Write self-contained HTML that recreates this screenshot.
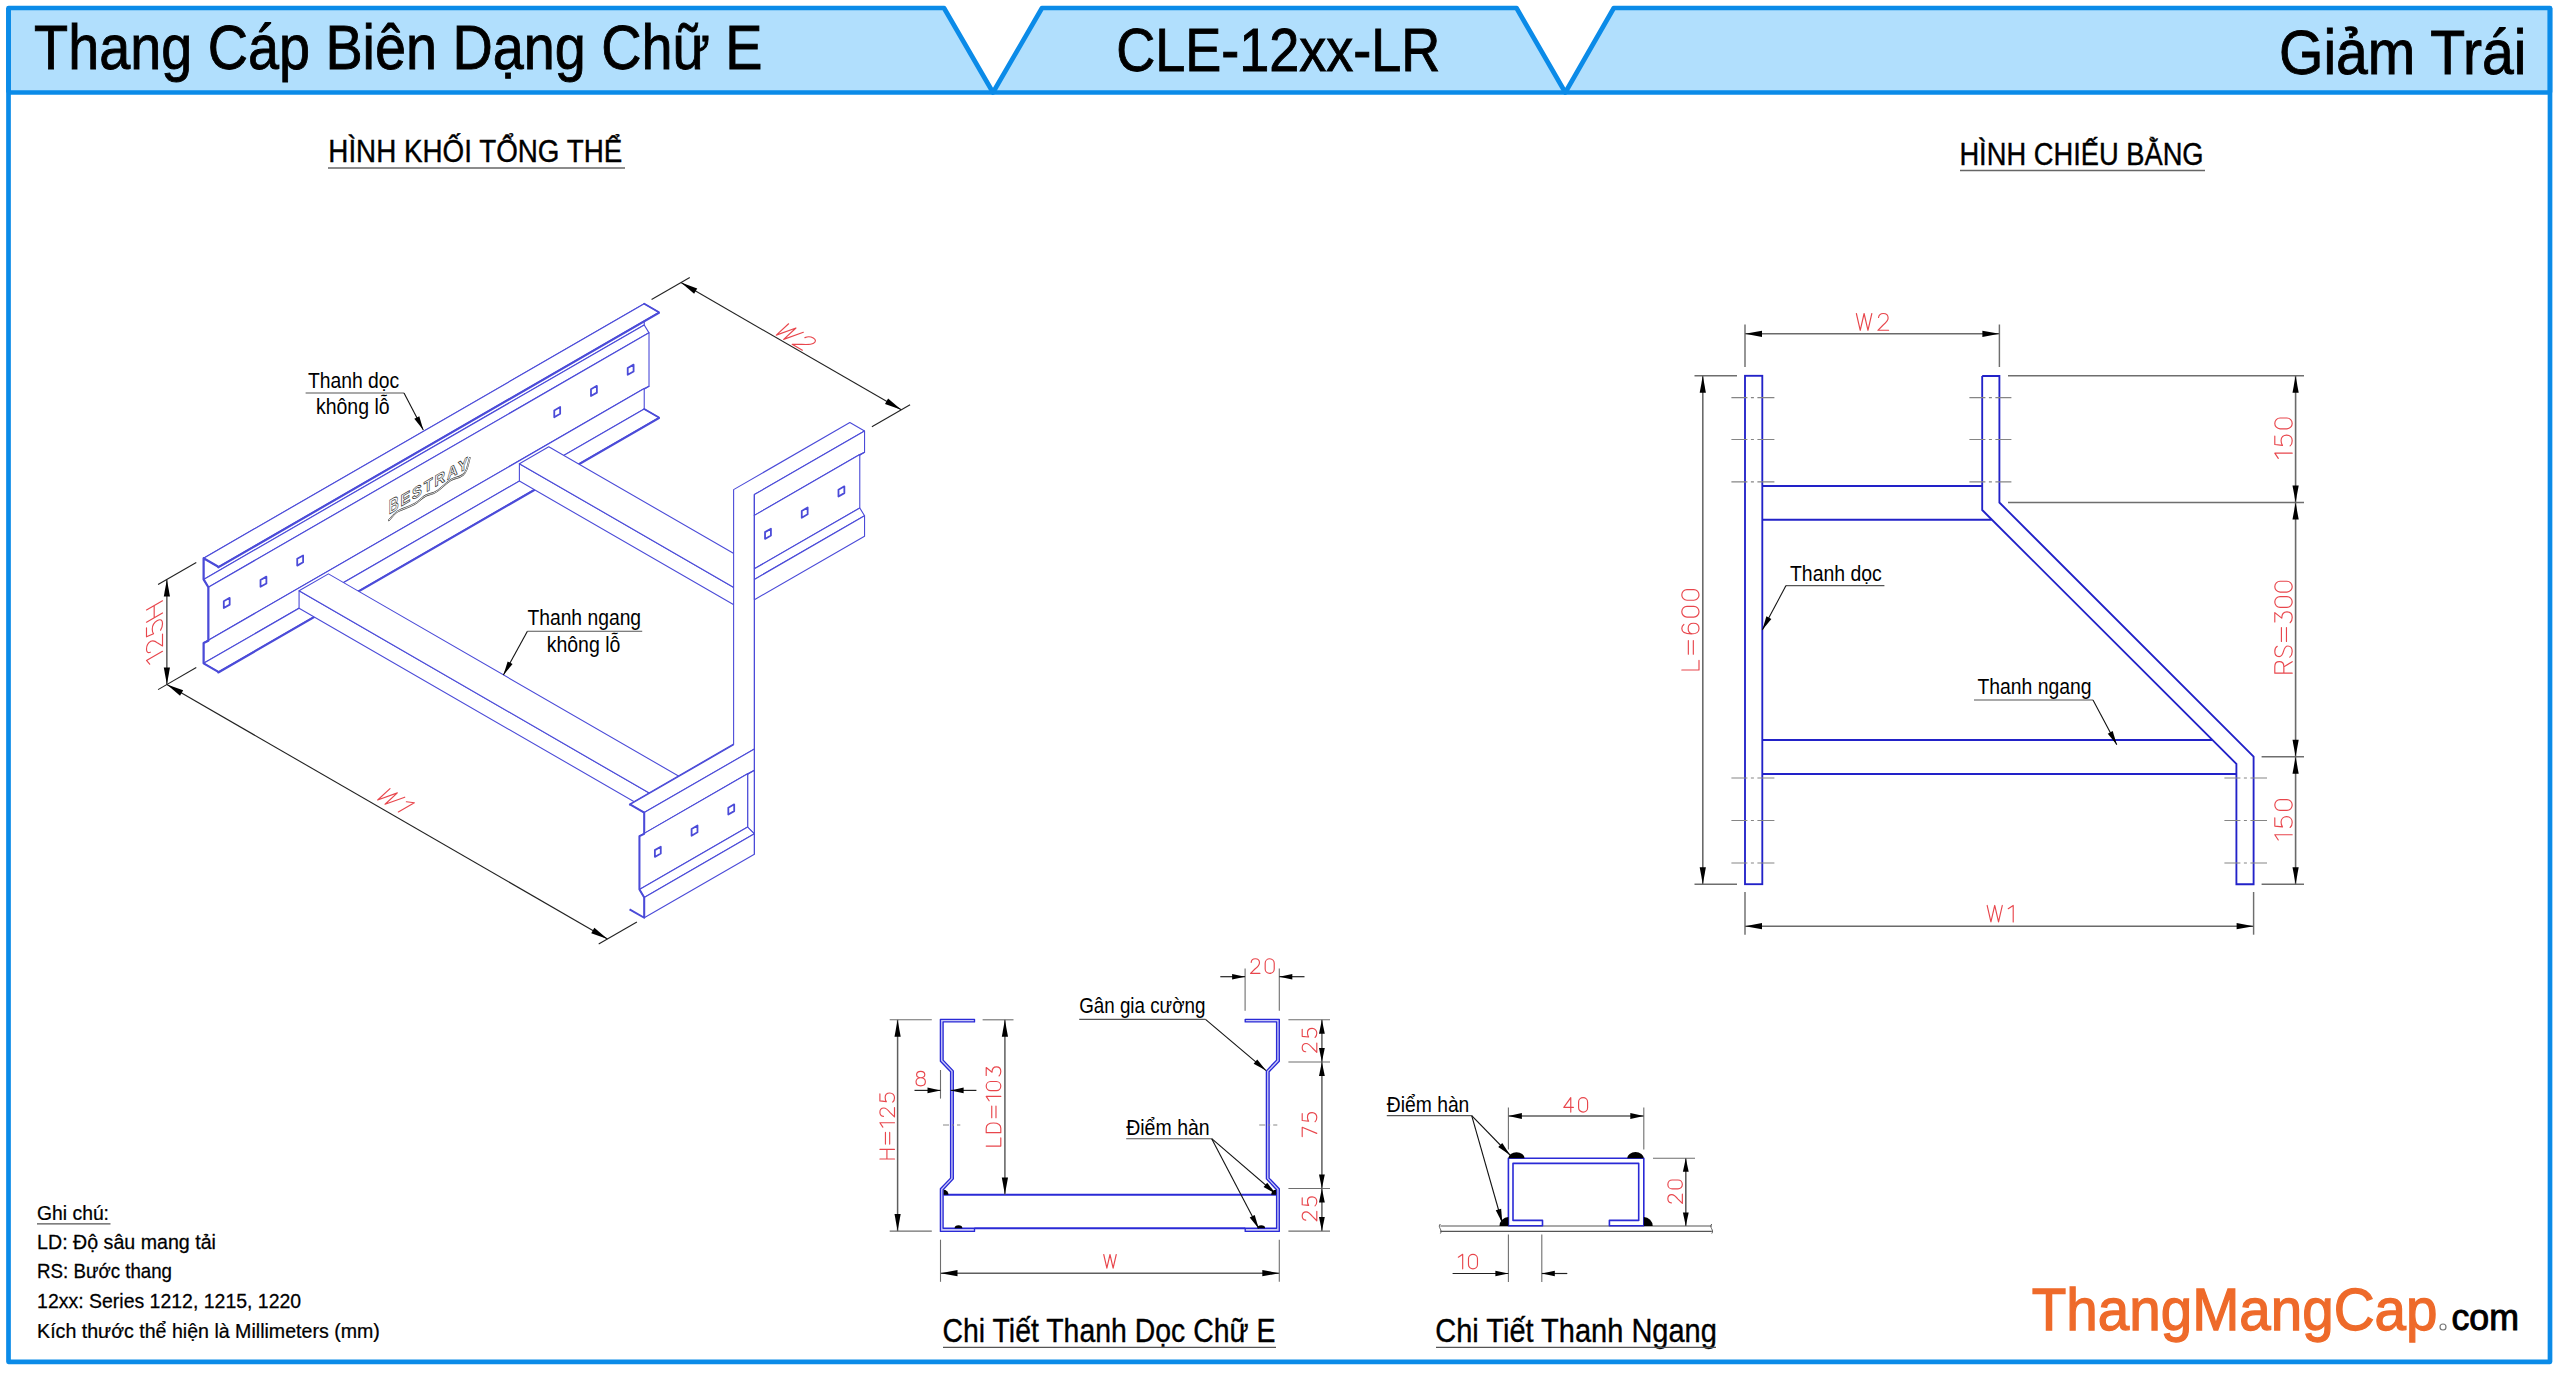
<!DOCTYPE html>
<html><head><meta charset="utf-8"><title>CLE-12xx-LR</title>
<style>html,body{margin:0;padding:0;background:#fff;overflow:hidden}svg{display:block}
text{font-family:"Liberation Sans",sans-serif}</style></head>
<body><svg width="2560" height="1373" viewBox="0 0 2560 1373">
<rect x="0" y="0" width="2560" height="1373" fill="#fff"/>
<polygon points="8.5,8 944,8 993,92.5 8.5,92.5" fill="#b1dffd" stroke="none" stroke-width="1" stroke-linejoin="round" />
<polygon points="1042,8 1516.5,8 1565.3,92.5 993,92.5" fill="#b1dffd" stroke="none" stroke-width="1" stroke-linejoin="round" />
<polygon points="1613.8,8 2550,8 2550,92.5 1565.3,92.5" fill="#b1dffd" stroke="none" stroke-width="1" stroke-linejoin="round" />
<polyline points="8.5,92.5 8.5,8 944,8 993,92.5 1042,8 1516.5,8 1565.3,92.5 1613.8,8 2550,8 2550,92.5" fill="none" stroke="#0b8be8" stroke-width="4.7" stroke-linejoin="round" stroke-linejoin="miter"/>
<polyline points="8.5,8 8.5,1361.8 2550,1361.8 2550,8" fill="none" stroke="#0b8be8" stroke-width="4.7" stroke-linejoin="round" stroke-linejoin="miter"/>
<line x1="8.5" y1="92.5" x2="2550" y2="92.5" stroke="#0b8be8" stroke-width="4.7" />
<text transform="translate(34.1,68.6) scale(0.8783,1)" font-size="63.48" fill="#000"  stroke="#000" stroke-width="0.9">Thang Cáp Biên Dạng Chữ E</text>
<text transform="translate(1116.2,71.25) scale(0.8832,1)" font-size="61.16" fill="#000"  stroke="#000" stroke-width="0.9">CLE-12xx-LR</text>
<text transform="translate(2279,73.6) scale(0.9204,1)" font-size="62.03" fill="#000"  stroke="#000" stroke-width="0.9">Giảm Trái</text>
<text transform="translate(328.3,161.8) scale(0.8723,1)" font-size="31.88" fill="#000"  stroke="#000" stroke-width="0.4">HÌNH KHỐI TỔNG THỂ</text>
<line x1="328" y1="168" x2="625" y2="168" stroke="#666" stroke-width="1.6" />
<text transform="translate(1959.4,164.6) scale(0.8566,1)" font-size="31.88" fill="#000"  stroke="#000" stroke-width="0.4">HÌNH CHIẾU BẰNG</text>
<line x1="1960" y1="170.5" x2="2205" y2="170.5" stroke="#666" stroke-width="1.6" />
<g id="iso">
<polygon points="203.6,558.2 644.23,303.8 644.23,325 203.6,579.4" fill="#fff" stroke="#4b4bd8" stroke-width="1.1" stroke-linejoin="round" />
<polygon points="203.6,579.4 644.23,325 649.01,332.84 208.37,587.24" fill="#fff" stroke="#4b4bd8" stroke-width="1.1" stroke-linejoin="round" />
<polygon points="208.37,587.24 649.01,332.84 649.01,386.27 208.37,640.67" fill="#fff" stroke="#4b4bd8" stroke-width="1.1" stroke-linejoin="round" />
<polygon points="208.37,640.67 649.01,386.27 644.23,388.6 203.6,643" fill="#fff" stroke="#4b4bd8" stroke-width="1.1" stroke-linejoin="round" />
<polygon points="203.6,643 644.23,388.6 644.23,408.95 203.6,663.35" fill="#fff" stroke="#4b4bd8" stroke-width="1.1" stroke-linejoin="round" />
<polygon points="203.6,663.35 644.23,408.95 658.92,417.43 218.29,671.83" fill="#fff" stroke="#4b4bd8" stroke-width="1.1" stroke-linejoin="round" />
<polygon points="203.6,558.2 644.23,303.8 658.92,312.28 218.29,566.68" fill="#fff" stroke="#4b4bd8" stroke-width="1.1" stroke-linejoin="round" />
<line x1="218.29" y1="567.36" x2="658.92" y2="312.96" stroke="#4b4bd8" stroke-width="2.0" stroke-linecap="round"/>
<line x1="218.29" y1="672.51" x2="658.92" y2="418.11" stroke="#4b4bd8" stroke-width="2.0" stroke-linecap="round"/>
<polyline points="218.29,566.68 203.6,558.2 203.6,579.4 208.37,587.24 208.37,640.67 203.6,643 203.6,663.35 218.29,671.83" fill="none" stroke="#4b4bd8" stroke-width="2.2" stroke-linejoin="round" />
<line x1="644.23" y1="303.8" x2="658.92" y2="312.28" stroke="#4b4bd8" stroke-width="1.8" stroke-linecap="round"/>
<line x1="644.23" y1="408.95" x2="658.92" y2="417.43" stroke="#4b4bd8" stroke-width="1.8" stroke-linecap="round"/>
<polygon points="223.8,601.24 229.67,597.84 229.67,604.63 223.8,608.02" fill="#fff" stroke="#4b4bd8" stroke-width="1.8" stroke-linejoin="round" />
<polygon points="260.52,580.04 266.39,576.64 266.39,583.43 260.52,586.82" fill="#fff" stroke="#4b4bd8" stroke-width="1.8" stroke-linejoin="round" />
<polygon points="297.23,558.84 303.11,555.44 303.11,562.23 297.23,565.62" fill="#fff" stroke="#4b4bd8" stroke-width="1.8" stroke-linejoin="round" />
<polygon points="554.27,410.44 560.15,407.04 560.15,413.83 554.27,417.22" fill="#fff" stroke="#4b4bd8" stroke-width="1.8" stroke-linejoin="round" />
<polygon points="590.99,389.24 596.87,385.84 596.87,392.63 590.99,396.02" fill="#fff" stroke="#4b4bd8" stroke-width="1.8" stroke-linejoin="round" />
<polygon points="627.71,368.04 633.59,364.64 633.59,371.43 627.71,374.82" fill="#fff" stroke="#4b4bd8" stroke-width="1.8" stroke-linejoin="round" />
<g transform="matrix(0.866,-0.5,0,1,388.7,514.4)">
<path d="M0.5,5.8 C4,4.5 7,1.5 12,2.2 C18,3 24,4.2 30,4.4 C36,4.6 38,2.2 43,2.6 C48,3 50,5.2 56,4.6 C62,4 66,1.5 72,1.5 C78,1.5 80,4.2 86,3.2 C90,2.5 91,-2 93.4,-9.5" fill="none" stroke="#3a3a3a" stroke-width="2.3" stroke-linecap="round"/>
<path d="M0.5,5.8 C4,4.5 7,1.5 12,2.2 C18,3 24,4.2 30,4.4 C36,4.6 38,2.2 43,2.6 C48,3 50,5.2 56,4.6 C62,4 66,1.5 72,1.5 C78,1.5 80,4.2 86,3.2 C90,2.5 91,-2 93.4,-9.5" fill="none" stroke="#fff" stroke-width="0.8" stroke-linecap="round"/>
<text x="0" y="0" font-size="20" font-weight="bold" fill="#fff" stroke="#333" stroke-width="0.75" textLength="11.5" lengthAdjust="spacingAndGlyphs">B</text>
<text x="13.5" y="-0.8" font-size="16" font-weight="bold" fill="#fff" stroke="#333" stroke-width="0.7" textLength="80" lengthAdjust="spacingAndGlyphs" letter-spacing="2">ESTRAY</text>
</g>
<polygon points="299.07,590.85 736.77,843.55 736.77,860.94 299.07,608.23" fill="#fff" stroke="#4b4bd8" stroke-width="1.1" stroke-linejoin="round" />
<polygon points="299.07,590.85 328.45,573.89 750.72,817.69 736.77,843.55" fill="#fff" stroke="#4b4bd8" stroke-width="1.1" stroke-linejoin="round" />
<polygon points="519.39,463.65 750.72,597.21 750.72,614.59 519.39,481.03" fill="#fff" stroke="#4b4bd8" stroke-width="1.1" stroke-linejoin="round" />
<polygon points="519.39,463.65 548.76,446.69 750.72,563.29 750.72,597.21" fill="#fff" stroke="#4b4bd8" stroke-width="1.1" stroke-linejoin="round" />
<polygon points="754.39,515.8 747.64,519.27 747.64,773.67 754.39,770.2" fill="#fff" stroke="#4b4bd8" stroke-width="1.1" stroke-linejoin="round" />
<polygon points="747.64,572.7 754.39,579.4 754.39,833.8 747.64,827.1" fill="#fff" stroke="#4b4bd8" stroke-width="1.1" stroke-linejoin="round" />
<polygon points="629.55,804.12 733.61,744.04 733.61,489.64 849.86,422.52 864.55,431 754.39,494.6 754.39,749 644.23,812.6" fill="#fff" stroke="#4b4bd8" stroke-width="1.1" stroke-linejoin="round" />
<polygon points="754.39,494.6 864.55,431 864.55,452.2 754.39,515.8" fill="#fff" stroke="#4b4bd8" stroke-width="1.1" stroke-linejoin="round" />
<polygon points="754.39,515.8 864.55,452.2 859.78,454.53 754.39,515.38" fill="#fff" stroke="#4b4bd8" stroke-width="1.1" stroke-linejoin="round" />
<polygon points="754.39,515.38 859.78,454.53 859.78,507.96 754.39,568.8" fill="#fff" stroke="#4b4bd8" stroke-width="1.1" stroke-linejoin="round" />
<polygon points="754.39,568.8 859.78,507.96 864.55,515.8 754.39,579.4" fill="#fff" stroke="#4b4bd8" stroke-width="1.1" stroke-linejoin="round" />
<polygon points="754.39,579.4 864.55,515.8 864.55,536.15 754.39,599.75" fill="#fff" stroke="#4b4bd8" stroke-width="1.1" stroke-linejoin="round" />
<polygon points="644.23,812.6 754.39,749 754.39,770.2 644.23,833.8" fill="#fff" stroke="#4b4bd8" stroke-width="1.1" stroke-linejoin="round" />
<polygon points="644.23,833.8 754.39,770.2 747.64,773.67 639.46,836.13" fill="#fff" stroke="#4b4bd8" stroke-width="1.1" stroke-linejoin="round" />
<polygon points="639.46,836.13 747.64,773.67 747.64,827.1 639.46,889.56" fill="#fff" stroke="#4b4bd8" stroke-width="1.1" stroke-linejoin="round" />
<polygon points="639.46,889.56 747.64,827.1 754.39,833.8 644.23,897.4" fill="#fff" stroke="#4b4bd8" stroke-width="1.1" stroke-linejoin="round" />
<polygon points="644.23,897.4 754.39,833.8 754.39,854.15 644.23,917.75" fill="#fff" stroke="#4b4bd8" stroke-width="1.1" stroke-linejoin="round" />
<line x1="754.39" y1="494.6" x2="754.39" y2="854.15" stroke="#4b4bd8" stroke-width="1.1" />
<polyline points="629.55,804.12 644.23,812.6 644.23,833.8 639.46,836.13 639.46,889.56 644.23,897.4 644.23,917.75 629.55,909.27" fill="none" stroke="#4b4bd8" stroke-width="2.0" stroke-linejoin="round" />
<line x1="629.55" y1="804.8" x2="733.61" y2="744.72" stroke="#4b4bd8" stroke-width="1.3" stroke-linecap="round"/>
<polygon points="765.04,532.12 770.92,528.73 770.92,535.52 765.04,538.91" fill="#fff" stroke="#4b4bd8" stroke-width="1.8" stroke-linejoin="round" />
<polygon points="801.76,510.92 807.64,507.53 807.64,514.32 801.76,517.71" fill="#fff" stroke="#4b4bd8" stroke-width="1.8" stroke-linejoin="round" />
<polygon points="838.48,489.72 844.35,486.33 844.35,493.12 838.48,496.51" fill="#fff" stroke="#4b4bd8" stroke-width="1.8" stroke-linejoin="round" />
<polygon points="654.88,850.12 660.76,846.73 660.76,853.52 654.88,856.91" fill="#fff" stroke="#4b4bd8" stroke-width="1.8" stroke-linejoin="round" />
<polygon points="691.6,828.92 697.48,825.53 697.48,832.32 691.6,835.71" fill="#fff" stroke="#4b4bd8" stroke-width="1.8" stroke-linejoin="round" />
<polygon points="728.32,807.72 734.2,804.33 734.2,811.12 728.32,814.51" fill="#fff" stroke="#4b4bd8" stroke-width="1.8" stroke-linejoin="round" />
</g>
<line x1="651.58" y1="299.56" x2="689.77" y2="277.51" stroke="#222" stroke-width="1.1" />
<line x1="871.89" y1="426.76" x2="910.08" y2="404.71" stroke="#222" stroke-width="1.1" />
<line x1="680.95" y1="282.6" x2="901.27" y2="409.8" stroke="#222" stroke-width="1.1" />
<polygon points="680.95,282.6 697.23,288.42 694.13,293.78" fill="#000" stroke="none" stroke-width="1" stroke-linejoin="round" />
<polygon points="901.27,409.8 885,403.98 888.1,398.62" fill="#000" stroke="none" stroke-width="1" stroke-linejoin="round" />
<line x1="158.07" y1="689.64" x2="196.26" y2="667.59" stroke="#222" stroke-width="1.1" />
<line x1="598.7" y1="944.04" x2="636.89" y2="921.99" stroke="#222" stroke-width="1.1" />
<line x1="166.88" y1="684.55" x2="607.51" y2="938.95" stroke="#222" stroke-width="1.1" />
<polygon points="166.88,684.55 183.15,690.37 180.05,695.74" fill="#000" stroke="none" stroke-width="1" stroke-linejoin="round" />
<polygon points="607.51,938.95 591.24,933.14 594.34,927.77" fill="#000" stroke="none" stroke-width="1" stroke-linejoin="round" />
<line x1="158.07" y1="584.49" x2="196.26" y2="562.44" stroke="#222" stroke-width="1.1" />
<line x1="166.88" y1="579.4" x2="166.88" y2="684.55" stroke="#222" stroke-width="1.1" />
<polygon points="166.88,579.4 169.98,596.4 163.78,596.4" fill="#000" stroke="none" stroke-width="1" stroke-linejoin="round" />
<polygon points="166.88,684.55 163.78,667.55 169.98,667.55" fill="#000" stroke="none" stroke-width="1" stroke-linejoin="round" />
<g transform="matrix(16.02,9.25,-16.02,9.25,795.5,337)" fill="none" stroke="#e8464c" stroke-width="1.15" stroke-linecap="round" stroke-linejoin="round" vector-effect="non-scaling-stroke"><path vector-effect="non-scaling-stroke" transform="translate(-0.93,0.5)" d="M0,-1 L0.23,0 L0.46,-1 L0.69,0 L0.92,-1"/><path vector-effect="non-scaling-stroke" transform="translate(0.29,0.5)" d="M0.04,-0.76 C0.06,-0.92 0.18,-1 0.32,-1 C0.49,-1 0.61,-0.89 0.61,-0.73 C0.61,-0.57 0.5,-0.46 0.3,-0.3 L0,0 L0.64,0"/></g>
<g transform="matrix(16.02,9.25,-16.02,9.25,394.5,800.5)" fill="none" stroke="#e8464c" stroke-width="1.15" stroke-linecap="round" stroke-linejoin="round" vector-effect="non-scaling-stroke"><path vector-effect="non-scaling-stroke" transform="translate(-0.78,0.5)" d="M0,-1 L0.23,0 L0.46,-1 L0.69,0 L0.92,-1"/><path vector-effect="non-scaling-stroke" transform="translate(0.44,0.5)" d="M0,-0.8 L0.3,-1 L0.3,0"/></g>
<g transform="matrix(0,-18.5,16.02,-9.25,154.5,633.3)" fill="none" stroke="#e8464c" stroke-width="1.15" stroke-linecap="round" stroke-linejoin="round" vector-effect="non-scaling-stroke"><path vector-effect="non-scaling-stroke" transform="translate(-1.52,0.5)" d="M0,-0.8 L0.3,-1 L0.3,0"/><path vector-effect="non-scaling-stroke" transform="translate(-0.93,0.5)" d="M0.04,-0.76 C0.06,-0.92 0.18,-1 0.32,-1 C0.49,-1 0.61,-0.89 0.61,-0.73 C0.61,-0.57 0.5,-0.46 0.3,-0.3 L0,0 L0.64,0"/><path vector-effect="non-scaling-stroke" transform="translate(-0.04,0.5)" d="M0.58,-1 L0.1,-1 L0.05,-0.56 C0.14,-0.62 0.24,-0.64 0.33,-0.64 C0.52,-0.64 0.64,-0.5 0.64,-0.32 C0.64,-0.12 0.5,0 0.32,0 C0.19,0 0.08,-0.04 0.02,-0.12"/><path vector-effect="non-scaling-stroke" transform="translate(0.85,0.5)" d="M0,-1 L0,0 M0.66,-1 L0.66,0 M0,-0.52 L0.66,-0.52"/></g>
<text transform="translate(307.9,387.6) scale(0.9009,1)" font-size="21.45" fill="#000" >Thanh dọc</text>
<text transform="translate(315.9,413.8) scale(0.9090,1)" font-size="21.45" fill="#000" >không lỗ</text>
<line x1="305.6" y1="393" x2="404" y2="393" stroke="#555" stroke-width="1.15" />
<polyline points="404,393 423.3,429.9" fill="none" stroke="#111" stroke-width="1.1" stroke-linejoin="round" />
<polygon points="423.3,429.9 414.33,418.79 419.29,416.2" fill="#000" stroke="none" stroke-width="1" stroke-linejoin="round" />
<text transform="translate(527.4,625.4) scale(0.9000,1)" font-size="21.45" fill="#000" >Thanh ngang</text>
<text transform="translate(546.7,651.7) scale(0.9090,1)" font-size="21.45" fill="#000" >không lỗ</text>
<line x1="527.4" y1="631.2" x2="642.2" y2="631.2" stroke="#555" stroke-width="1.15" />
<polyline points="527.4,631.2 503.4,675" fill="none" stroke="#111" stroke-width="1.1" stroke-linejoin="round" />
<polygon points="503.4,675 507.67,661.38 512.58,664.07" fill="#000" stroke="none" stroke-width="1" stroke-linejoin="round" />
<g fill="none" stroke="#2222c8" stroke-width="1.85" stroke-linejoin="miter">
<rect x="1745" y="375.8" width="17.3" height="508.4"/>
<polyline points="1982.2,376 1999.4,376 1999.4,502.5 2253.6,756.7 2253.6,884.2 2236.4,884.2 2236.4,763.9 1982.2,510 1982.2,376"/>
<polyline points="1762.3,486 1982.2,486"/>
<polyline points="1762.3,519.7 1991.7,519.7"/>
<polyline points="1762.3,740 2212,740"/>
<polyline points="1762.3,774 2236.4,774"/>
</g>
<line x1="1731.4" y1="397.6" x2="1774.4" y2="397.6" stroke="#858585" stroke-width="1.15" stroke-dasharray="16,3.5,3,3.5,17,50"/>
<line x1="1969.4" y1="397.6" x2="2011.4" y2="397.6" stroke="#858585" stroke-width="1.15" stroke-dasharray="16,3.5,3,3.5,17,50"/>
<line x1="1731.4" y1="439.5" x2="1774.4" y2="439.5" stroke="#858585" stroke-width="1.15" stroke-dasharray="16,3.5,3,3.5,17,50"/>
<line x1="1969.4" y1="439.5" x2="2011.4" y2="439.5" stroke="#858585" stroke-width="1.15" stroke-dasharray="16,3.5,3,3.5,17,50"/>
<line x1="1731.4" y1="481.8" x2="1774.4" y2="481.8" stroke="#858585" stroke-width="1.15" stroke-dasharray="16,3.5,3,3.5,17,50"/>
<line x1="1969.4" y1="481.8" x2="2011.4" y2="481.8" stroke="#858585" stroke-width="1.15" stroke-dasharray="16,3.5,3,3.5,17,50"/>
<line x1="1731.4" y1="778" x2="1774.4" y2="778" stroke="#858585" stroke-width="1.15" stroke-dasharray="16,3.5,3,3.5,17,50"/>
<line x1="2224.4" y1="778" x2="2267" y2="778" stroke="#858585" stroke-width="1.15" stroke-dasharray="16,3.5,3,3.5,17,50"/>
<line x1="1731.4" y1="820.5" x2="1774.4" y2="820.5" stroke="#858585" stroke-width="1.15" stroke-dasharray="16,3.5,3,3.5,17,50"/>
<line x1="2224.4" y1="820.5" x2="2267" y2="820.5" stroke="#858585" stroke-width="1.15" stroke-dasharray="16,3.5,3,3.5,17,50"/>
<line x1="1731.4" y1="863" x2="1774.4" y2="863" stroke="#858585" stroke-width="1.15" stroke-dasharray="16,3.5,3,3.5,17,50"/>
<line x1="2224.4" y1="863" x2="2267" y2="863" stroke="#858585" stroke-width="1.15" stroke-dasharray="16,3.5,3,3.5,17,50"/>
<line x1="1745" y1="324.5" x2="1745" y2="367" stroke="#6e6e6e" stroke-width="1.45" />
<line x1="1999.4" y1="324.5" x2="1999.4" y2="367" stroke="#6e6e6e" stroke-width="1.45" />
<line x1="1745" y1="333.8" x2="1999.4" y2="333.8" stroke="#6a6a6a" stroke-width="1.6" />
<polygon points="1745,333.8 1762,330.7 1762,336.9" fill="#000" stroke="none" stroke-width="1" stroke-linejoin="round" />
<polygon points="1999.4,333.8 1982.4,336.9 1982.4,330.7" fill="#000" stroke="none" stroke-width="1" stroke-linejoin="round" />
<line x1="1694.5" y1="375.8" x2="1737" y2="375.8" stroke="#6e6e6e" stroke-width="1.45" />
<line x1="1694.5" y1="884.2" x2="1737" y2="884.2" stroke="#6e6e6e" stroke-width="1.45" />
<line x1="1702.8" y1="375.8" x2="1702.8" y2="884.2" stroke="#6a6a6a" stroke-width="1.6" />
<polygon points="1702.8,375.8 1705.9,392.8 1699.7,392.8" fill="#000" stroke="none" stroke-width="1" stroke-linejoin="round" />
<polygon points="1702.8,884.2 1699.7,867.2 1705.9,867.2" fill="#000" stroke="none" stroke-width="1" stroke-linejoin="round" />
<line x1="2008" y1="375.8" x2="2304" y2="375.8" stroke="#6e6e6e" stroke-width="1.45" />
<line x1="2008" y1="502.5" x2="2304" y2="502.5" stroke="#6e6e6e" stroke-width="1.45" />
<line x1="2261.6" y1="756.7" x2="2304" y2="756.7" stroke="#6e6e6e" stroke-width="1.45" />
<line x1="2261.6" y1="884.2" x2="2304" y2="884.2" stroke="#6e6e6e" stroke-width="1.45" />
<line x1="2295.6" y1="375.8" x2="2295.6" y2="884.2" stroke="#6a6a6a" stroke-width="1.6" />
<polygon points="2295.6,375.8 2298.7,392.8 2292.5,392.8" fill="#000" stroke="none" stroke-width="1" stroke-linejoin="round" />
<polygon points="2295.6,502.5 2292.5,485.5 2298.7,485.5" fill="#000" stroke="none" stroke-width="1" stroke-linejoin="round" />
<polygon points="2295.6,502.5 2298.7,519.5 2292.5,519.5" fill="#000" stroke="none" stroke-width="1" stroke-linejoin="round" />
<polygon points="2295.6,756.7 2292.5,739.7 2298.7,739.7" fill="#000" stroke="none" stroke-width="1" stroke-linejoin="round" />
<polygon points="2295.6,756.7 2298.7,773.7 2292.5,773.7" fill="#000" stroke="none" stroke-width="1" stroke-linejoin="round" />
<polygon points="2295.6,884.2 2292.5,867.2 2298.7,867.2" fill="#000" stroke="none" stroke-width="1" stroke-linejoin="round" />
<line x1="1745" y1="892" x2="1745" y2="934.7" stroke="#6e6e6e" stroke-width="1.45" />
<line x1="2253.6" y1="892" x2="2253.6" y2="934.7" stroke="#6e6e6e" stroke-width="1.45" />
<line x1="1745" y1="926.2" x2="2253.6" y2="926.2" stroke="#6a6a6a" stroke-width="1.6" />
<polygon points="1745,926.2 1762,923.1 1762,929.3" fill="#000" stroke="none" stroke-width="1" stroke-linejoin="round" />
<polygon points="2253.6,926.2 2236.6,929.3 2236.6,923.1" fill="#000" stroke="none" stroke-width="1" stroke-linejoin="round" />
<g transform="translate(1872.5,321.9) rotate(0) scale(16.8)" fill="none" stroke="#e8464c" stroke-width="1.15" stroke-linecap="round" stroke-linejoin="round" vector-effect="non-scaling-stroke"><path vector-effect="non-scaling-stroke" transform="translate(-0.96,0.5)" d="M0,-1 L0.23,0 L0.46,-1 L0.69,0 L0.92,-1"/><path vector-effect="non-scaling-stroke" transform="translate(0.32,0.5)" d="M0.04,-0.76 C0.06,-0.92 0.18,-1 0.32,-1 C0.49,-1 0.61,-0.89 0.61,-0.73 C0.61,-0.57 0.5,-0.46 0.3,-0.3 L0,0 L0.64,0"/></g>
<g transform="translate(2000.5,913.7) rotate(0) scale(16.5)" fill="none" stroke="#e8464c" stroke-width="1.15" stroke-linecap="round" stroke-linejoin="round" vector-effect="non-scaling-stroke"><path vector-effect="non-scaling-stroke" transform="translate(-0.81,0.5)" d="M0,-1 L0.23,0 L0.46,-1 L0.69,0 L0.92,-1"/><path vector-effect="non-scaling-stroke" transform="translate(0.47,0.5)" d="M0,-0.8 L0.3,-1 L0.3,0"/></g>
<g transform="translate(1690.4,629.8) rotate(-90) scale(17.2)" fill="none" stroke="#e8464c" stroke-width="1.15" stroke-linecap="round" stroke-linejoin="round" vector-effect="non-scaling-stroke"><path vector-effect="non-scaling-stroke" transform="translate(-2.34,0.5)" d="M0,-1 L0,0 L0.56,0"/><path vector-effect="non-scaling-stroke" transform="translate(-1.42,0.5)" d="M0,-0.62 L0.8,-0.62 M0,-0.33 L0.8,-0.33"/><path vector-effect="non-scaling-stroke" transform="translate(-0.26,0.5)" d="M0.57,-0.88 C0.51,-0.96 0.42,-1 0.33,-1 C0.12,-1 0.02,-0.78 0.02,-0.45 C0.02,-0.15 0.12,0 0.33,0 C0.52,0 0.64,-0.13 0.64,-0.32 C0.64,-0.52 0.52,-0.63 0.34,-0.63 C0.18,-0.63 0.05,-0.54 0.02,-0.4"/><path vector-effect="non-scaling-stroke" transform="translate(0.74,0.5)" d="M0,-0.7 A0.31,0.3 0 0 1 0.62,-0.7 L0.62,-0.3 A0.31,0.3 0 0 1 0,-0.3 Z"/><path vector-effect="non-scaling-stroke" transform="translate(1.72,0.5)" d="M0,-0.7 A0.31,0.3 0 0 1 0.62,-0.7 L0.62,-0.3 A0.31,0.3 0 0 1 0,-0.3 Z"/></g>
<g transform="translate(2283.5,438.2) rotate(-90) scale(17.4)" fill="none" stroke="#e8464c" stroke-width="1.15" stroke-linecap="round" stroke-linejoin="round" vector-effect="non-scaling-stroke"><path vector-effect="non-scaling-stroke" transform="translate(-1.16,0.5)" d="M0,-0.8 L0.3,-1 L0.3,0"/><path vector-effect="non-scaling-stroke" transform="translate(-0.46,0.5)" d="M0.58,-1 L0.1,-1 L0.05,-0.56 C0.14,-0.62 0.24,-0.64 0.33,-0.64 C0.52,-0.64 0.64,-0.5 0.64,-0.32 C0.64,-0.12 0.5,0 0.32,0 C0.19,0 0.08,-0.04 0.02,-0.12"/><path vector-effect="non-scaling-stroke" transform="translate(0.54,0.5)" d="M0,-0.7 A0.31,0.3 0 0 1 0.62,-0.7 L0.62,-0.3 A0.31,0.3 0 0 1 0,-0.3 Z"/></g>
<g transform="translate(2283.5,627.2) rotate(-90) scale(17.4)" fill="none" stroke="#e8464c" stroke-width="1.15" stroke-linecap="round" stroke-linejoin="round" vector-effect="non-scaling-stroke"><path vector-effect="non-scaling-stroke" transform="translate(-2.64,0.5)" d="M0,0 L0,-1 L0.38,-1 C0.56,-1 0.66,-0.9 0.66,-0.74 C0.66,-0.58 0.56,-0.48 0.38,-0.48 L0,-0.48 M0.36,-0.48 L0.66,0"/><path vector-effect="non-scaling-stroke" transform="translate(-1.72,0.5)" d="M0.62,-0.86 C0.56,-0.96 0.46,-1 0.32,-1 C0.14,-1 0.03,-0.9 0.03,-0.75 C0.03,-0.42 0.64,-0.58 0.64,-0.25 C0.64,-0.08 0.5,0 0.32,0 C0.16,0 0.06,-0.06 0,-0.14"/><path vector-effect="non-scaling-stroke" transform="translate(-0.82,0.5)" d="M0,-0.62 L0.8,-0.62 M0,-0.33 L0.8,-0.33"/><path vector-effect="non-scaling-stroke" transform="translate(0.24,0.5)" d="M0.06,-1 L0.6,-1 L0.28,-0.6 C0.5,-0.6 0.64,-0.48 0.64,-0.3 C0.64,-0.1 0.5,0 0.32,0 C0.19,0 0.08,-0.04 0.02,-0.12"/><path vector-effect="non-scaling-stroke" transform="translate(1.14,0.5)" d="M0,-0.7 A0.31,0.3 0 0 1 0.62,-0.7 L0.62,-0.3 A0.31,0.3 0 0 1 0,-0.3 Z"/><path vector-effect="non-scaling-stroke" transform="translate(2.02,0.5)" d="M0,-0.7 A0.31,0.3 0 0 1 0.62,-0.7 L0.62,-0.3 A0.31,0.3 0 0 1 0,-0.3 Z"/></g>
<g transform="translate(2283.5,819.8) rotate(-90) scale(17.4)" fill="none" stroke="#e8464c" stroke-width="1.15" stroke-linecap="round" stroke-linejoin="round" vector-effect="non-scaling-stroke"><path vector-effect="non-scaling-stroke" transform="translate(-1.16,0.5)" d="M0,-0.8 L0.3,-1 L0.3,0"/><path vector-effect="non-scaling-stroke" transform="translate(-0.46,0.5)" d="M0.58,-1 L0.1,-1 L0.05,-0.56 C0.14,-0.62 0.24,-0.64 0.33,-0.64 C0.52,-0.64 0.64,-0.5 0.64,-0.32 C0.64,-0.12 0.5,0 0.32,0 C0.19,0 0.08,-0.04 0.02,-0.12"/><path vector-effect="non-scaling-stroke" transform="translate(0.54,0.5)" d="M0,-0.7 A0.31,0.3 0 0 1 0.62,-0.7 L0.62,-0.3 A0.31,0.3 0 0 1 0,-0.3 Z"/></g>
<text transform="translate(1790,580.8) scale(0.9058,1)" font-size="21.45" fill="#000" >Thanh dọc</text>
<line x1="1786" y1="585.6" x2="1884.4" y2="585.6" stroke="#555" stroke-width="1.15" />
<polyline points="1786,585.6 1762.3,630" fill="none" stroke="#111" stroke-width="1.1" stroke-linejoin="round" />
<polygon points="1762.3,630 1766.42,616.33 1771.36,618.97" fill="#000" stroke="none" stroke-width="1" stroke-linejoin="round" />
<text transform="translate(1977.4,694.3) scale(0.9032,1)" font-size="21.45" fill="#000" >Thanh ngang</text>
<line x1="1974" y1="700" x2="2093" y2="700" stroke="#555" stroke-width="1.15" />
<polyline points="2093,700 2116.8,744.8" fill="none" stroke="#111" stroke-width="1.1" stroke-linejoin="round" />
<polygon points="2116.8,744.8 2107.76,733.75 2112.7,731.12" fill="#000" stroke="none" stroke-width="1" stroke-linejoin="round" />
<polygon points="974.5,1019.3 940.4,1019.3 940.4,1061.3 950.6,1071.8 950.6,1178.1 940.4,1188.8 940.4,1231.4 974.5,1231.4 974.5,1228.2 943.1,1228.2 943.1,1189.7 953.3,1178.9 953.3,1070.9 943.1,1060.1 943.1,1021.9 974.5,1021.9" fill="#c9c9f6" stroke="#2a2ad6" stroke-width="1.35" stroke-linejoin="round" />
<polygon points="1245.2,1019.3 1279.3,1019.3 1279.3,1061.3 1269.1,1071.8 1269.1,1178.1 1279.3,1188.8 1279.3,1231.4 1245.2,1231.4 1245.2,1228.2 1276.6,1228.2 1276.6,1189.7 1266.4,1178.9 1266.4,1070.9 1276.6,1060.1 1276.6,1021.9 1245.2,1021.9" fill="#c9c9f6" stroke="#2a2ad6" stroke-width="1.35" stroke-linejoin="round" />
<line x1="943.6" y1="1194.7" x2="1276.1" y2="1194.7" stroke="#2a2ad6" stroke-width="1.9" />
<line x1="974.5" y1="1228.2" x2="1245.2" y2="1228.2" stroke="#2a2ad6" stroke-width="1.9" />
<path d="M954.6,1228.2 A3.9,2.9 0 0 1 962.4,1228.2 Z" fill="#000"/>
<path d="M1257.3,1228.2 A3.9,2.9 0 0 1 1265.1,1228.2 Z" fill="#000"/>
<path d="M943.6,1194.7 L943.6,1189.8 A4.9,4.9 0 0 1 948.5,1194.7 Z" fill="#000"/>
<path d="M1276.1,1194.7 L1276.1,1189.8 A4.9,4.9 0 0 0 1271.2,1194.7 Z" fill="#000"/>
<line x1="943" y1="1125" x2="960.3" y2="1125" stroke="#888" stroke-width="1.1" stroke-dasharray="6,3,2,3"/>
<line x1="1259.2" y1="1125" x2="1277.3" y2="1125" stroke="#888" stroke-width="1.1" stroke-dasharray="6,3,2,3"/>
<line x1="889.7" y1="1019.8" x2="931.8" y2="1019.8" stroke="#6e6e6e" stroke-width="1.1" />
<line x1="889.7" y1="1231.1" x2="931.8" y2="1231.1" stroke="#6e6e6e" stroke-width="1.1" />
<line x1="897.6" y1="1019.8" x2="897.6" y2="1231.1" stroke="#5e5e5e" stroke-width="1.5" />
<polygon points="897.6,1019.8 900.7,1036.8 894.5,1036.8" fill="#000" stroke="none" stroke-width="1" stroke-linejoin="round" />
<polygon points="897.6,1231.1 894.5,1214.1 900.7,1214.1" fill="#000" stroke="none" stroke-width="1" stroke-linejoin="round" />
<g transform="translate(887.2,1126) rotate(-90) scale(14.6)" fill="none" stroke="#e8464c" stroke-width="1.15" stroke-linecap="round" stroke-linejoin="round" vector-effect="non-scaling-stroke"><path vector-effect="non-scaling-stroke" transform="translate(-2.26,0.5)" d="M0,-1 L0,0 M0.66,-1 L0.66,0 M0,-0.52 L0.66,-0.52"/><path vector-effect="non-scaling-stroke" transform="translate(-1.24,0.5)" d="M0,-0.62 L0.8,-0.62 M0,-0.33 L0.8,-0.33"/><path vector-effect="non-scaling-stroke" transform="translate(-0.08,0.5)" d="M0,-0.8 L0.3,-1 L0.3,0"/><path vector-effect="non-scaling-stroke" transform="translate(0.62,0.5)" d="M0.04,-0.76 C0.06,-0.92 0.18,-1 0.32,-1 C0.49,-1 0.61,-0.89 0.61,-0.73 C0.61,-0.57 0.5,-0.46 0.3,-0.3 L0,0 L0.64,0"/><path vector-effect="non-scaling-stroke" transform="translate(1.62,0.5)" d="M0.58,-1 L0.1,-1 L0.05,-0.56 C0.14,-0.62 0.24,-0.64 0.33,-0.64 C0.52,-0.64 0.64,-0.5 0.64,-0.32 C0.64,-0.12 0.5,0 0.32,0 C0.19,0 0.08,-0.04 0.02,-0.12"/></g>
<line x1="982.6" y1="1019.8" x2="1013.5" y2="1019.8" stroke="#6e6e6e" stroke-width="1.1" />
<line x1="1004.9" y1="1019.8" x2="1004.9" y2="1194.4" stroke="#5e5e5e" stroke-width="1.5" />
<polygon points="1004.9,1019.8 1008,1036.8 1001.8,1036.8" fill="#000" stroke="none" stroke-width="1" stroke-linejoin="round" />
<polygon points="1004.9,1194.4 1001.8,1177.4 1008,1177.4" fill="#000" stroke="none" stroke-width="1" stroke-linejoin="round" />
<g transform="translate(993.5,1106.5) rotate(-90) scale(14.6)" fill="none" stroke="#e8464c" stroke-width="1.15" stroke-linecap="round" stroke-linejoin="round" vector-effect="non-scaling-stroke"><path vector-effect="non-scaling-stroke" transform="translate(-2.71,0.5)" d="M0,-1 L0,0 L0.56,0"/><path vector-effect="non-scaling-stroke" transform="translate(-1.79,0.5)" d="M0,0 L0,-1 L0.3,-1 C0.55,-1 0.66,-0.8 0.66,-0.5 C0.66,-0.2 0.55,0 0.3,0 Z"/><path vector-effect="non-scaling-stroke" transform="translate(-0.77,0.5)" d="M0,-0.62 L0.8,-0.62 M0,-0.33 L0.8,-0.33"/><path vector-effect="non-scaling-stroke" transform="translate(0.39,0.5)" d="M0,-0.8 L0.3,-1 L0.3,0"/><path vector-effect="non-scaling-stroke" transform="translate(1.09,0.5)" d="M0,-0.7 A0.31,0.3 0 0 1 0.62,-0.7 L0.62,-0.3 A0.31,0.3 0 0 1 0,-0.3 Z"/><path vector-effect="non-scaling-stroke" transform="translate(2.07,0.5)" d="M0.06,-1 L0.6,-1 L0.28,-0.6 C0.5,-0.6 0.64,-0.48 0.64,-0.3 C0.64,-0.1 0.5,0 0.32,0 C0.19,0 0.08,-0.04 0.02,-0.12"/></g>
<line x1="940.5" y1="1070" x2="940.5" y2="1098.6" stroke="#6e6e6e" stroke-width="1.1" />
<line x1="914.5" y1="1090.4" x2="940.5" y2="1090.4" stroke="#222" stroke-width="1.2" />
<polygon points="940.5,1090.4 927.5,1093.2 927.5,1087.6" fill="#000" stroke="none" stroke-width="1" stroke-linejoin="round" />
<line x1="976.4" y1="1090.4" x2="950.6" y2="1090.4" stroke="#222" stroke-width="1.2" />
<polygon points="950.6,1090.4 963.6,1087.6 963.6,1093.2" fill="#000" stroke="none" stroke-width="1" stroke-linejoin="round" />
<g transform="translate(920.7,1078.6) rotate(0) scale(14.6)" fill="none" stroke="#e8464c" stroke-width="1.15" stroke-linecap="round" stroke-linejoin="round" vector-effect="non-scaling-stroke"><path vector-effect="non-scaling-stroke" transform="translate(-0.32,0.5)" d="M0.32,-0.56 C0.14,-0.56 0.04,-0.66 0.04,-0.78 C0.04,-0.92 0.16,-1 0.32,-1 C0.48,-1 0.6,-0.92 0.6,-0.78 C0.6,-0.66 0.5,-0.56 0.32,-0.56 C0.12,-0.56 0,-0.44 0,-0.28 C0,-0.1 0.14,0 0.32,0 C0.5,0 0.64,-0.1 0.64,-0.28 C0.64,-0.44 0.52,-0.56 0.32,-0.56 Z"/></g>
<line x1="1245.1" y1="968.6" x2="1245.1" y2="1010.7" stroke="#6e6e6e" stroke-width="1.1" />
<line x1="1279.3" y1="968.6" x2="1279.3" y2="1010.7" stroke="#6e6e6e" stroke-width="1.1" />
<line x1="1220.3" y1="976.7" x2="1245.1" y2="976.7" stroke="#222" stroke-width="1.2" />
<polygon points="1245.1,976.7 1232.1,979.5 1232.1,973.9" fill="#000" stroke="none" stroke-width="1" stroke-linejoin="round" />
<line x1="1304.5" y1="976.7" x2="1279.3" y2="976.7" stroke="#222" stroke-width="1.2" />
<polygon points="1279.3,976.7 1292.3,973.9 1292.3,979.5" fill="#000" stroke="none" stroke-width="1" stroke-linejoin="round" />
<g transform="translate(1262.4,966.1) rotate(0) scale(14.6)" fill="none" stroke="#e8464c" stroke-width="1.15" stroke-linecap="round" stroke-linejoin="round" vector-effect="non-scaling-stroke"><path vector-effect="non-scaling-stroke" transform="translate(-0.81,0.5)" d="M0.04,-0.76 C0.06,-0.92 0.18,-1 0.32,-1 C0.49,-1 0.61,-0.89 0.61,-0.73 C0.61,-0.57 0.5,-0.46 0.3,-0.3 L0,0 L0.64,0"/><path vector-effect="non-scaling-stroke" transform="translate(0.19,0.5)" d="M0,-0.7 A0.31,0.3 0 0 1 0.62,-0.7 L0.62,-0.3 A0.31,0.3 0 0 1 0,-0.3 Z"/></g>
<line x1="1288.4" y1="1019.8" x2="1330" y2="1019.8" stroke="#6e6e6e" stroke-width="1.1" />
<line x1="1288.4" y1="1062" x2="1330" y2="1062" stroke="#6e6e6e" stroke-width="1.1" />
<line x1="1288.4" y1="1188.5" x2="1330" y2="1188.5" stroke="#6e6e6e" stroke-width="1.1" />
<line x1="1288.4" y1="1231.1" x2="1330" y2="1231.1" stroke="#6e6e6e" stroke-width="1.1" />
<line x1="1321.9" y1="1019.8" x2="1321.9" y2="1231.1" stroke="#5e5e5e" stroke-width="1.5" />
<polygon points="1321.9,1019.8 1324.8,1033.8 1319,1033.8" fill="#000" stroke="none" stroke-width="1" stroke-linejoin="round" />
<polygon points="1321.9,1062 1319,1048 1324.8,1048" fill="#000" stroke="none" stroke-width="1" stroke-linejoin="round" />
<polygon points="1321.9,1062 1324.8,1076 1319,1076" fill="#000" stroke="none" stroke-width="1" stroke-linejoin="round" />
<polygon points="1321.9,1188.5 1319,1174.5 1324.8,1174.5" fill="#000" stroke="none" stroke-width="1" stroke-linejoin="round" />
<polygon points="1321.9,1188.5 1324.8,1202.5 1319,1202.5" fill="#000" stroke="none" stroke-width="1" stroke-linejoin="round" />
<polygon points="1321.9,1231.1 1319,1217.1 1324.8,1217.1" fill="#000" stroke="none" stroke-width="1" stroke-linejoin="round" />
<g transform="translate(1309.5,1040.4) rotate(-90) scale(14.6)" fill="none" stroke="#e8464c" stroke-width="1.15" stroke-linecap="round" stroke-linejoin="round" vector-effect="non-scaling-stroke"><path vector-effect="non-scaling-stroke" transform="translate(-0.82,0.5)" d="M0.04,-0.76 C0.06,-0.92 0.18,-1 0.32,-1 C0.49,-1 0.61,-0.89 0.61,-0.73 C0.61,-0.57 0.5,-0.46 0.3,-0.3 L0,0 L0.64,0"/><path vector-effect="non-scaling-stroke" transform="translate(0.18,0.5)" d="M0.58,-1 L0.1,-1 L0.05,-0.56 C0.14,-0.62 0.24,-0.64 0.33,-0.64 C0.52,-0.64 0.64,-0.5 0.64,-0.32 C0.64,-0.12 0.5,0 0.32,0 C0.19,0 0.08,-0.04 0.02,-0.12"/></g>
<g transform="translate(1309.5,1124.6) rotate(-90) scale(14.6)" fill="none" stroke="#e8464c" stroke-width="1.15" stroke-linecap="round" stroke-linejoin="round" vector-effect="non-scaling-stroke"><path vector-effect="non-scaling-stroke" transform="translate(-0.82,0.5)" d="M0,-1 L0.64,-1 L0.22,0"/><path vector-effect="non-scaling-stroke" transform="translate(0.18,0.5)" d="M0.58,-1 L0.1,-1 L0.05,-0.56 C0.14,-0.62 0.24,-0.64 0.33,-0.64 C0.52,-0.64 0.64,-0.5 0.64,-0.32 C0.64,-0.12 0.5,0 0.32,0 C0.19,0 0.08,-0.04 0.02,-0.12"/></g>
<g transform="translate(1309.5,1208.8) rotate(-90) scale(14.6)" fill="none" stroke="#e8464c" stroke-width="1.15" stroke-linecap="round" stroke-linejoin="round" vector-effect="non-scaling-stroke"><path vector-effect="non-scaling-stroke" transform="translate(-0.82,0.5)" d="M0.04,-0.76 C0.06,-0.92 0.18,-1 0.32,-1 C0.49,-1 0.61,-0.89 0.61,-0.73 C0.61,-0.57 0.5,-0.46 0.3,-0.3 L0,0 L0.64,0"/><path vector-effect="non-scaling-stroke" transform="translate(0.18,0.5)" d="M0.58,-1 L0.1,-1 L0.05,-0.56 C0.14,-0.62 0.24,-0.64 0.33,-0.64 C0.52,-0.64 0.64,-0.5 0.64,-0.32 C0.64,-0.12 0.5,0 0.32,0 C0.19,0 0.08,-0.04 0.02,-0.12"/></g>
<line x1="940.5" y1="1239.7" x2="940.5" y2="1281.8" stroke="#6e6e6e" stroke-width="1.1" />
<line x1="1279.3" y1="1239.7" x2="1279.3" y2="1281.8" stroke="#6e6e6e" stroke-width="1.1" />
<line x1="940.5" y1="1273.2" x2="1279.3" y2="1273.2" stroke="#5e5e5e" stroke-width="1.5" />
<polygon points="940.5,1273.2 957.5,1270.1 957.5,1276.3" fill="#000" stroke="none" stroke-width="1" stroke-linejoin="round" />
<polygon points="1279.3,1273.2 1262.3,1276.3 1262.3,1270.1" fill="#000" stroke="none" stroke-width="1" stroke-linejoin="round" />
<g transform="translate(1110,1261.3) rotate(0) scale(13.6)" fill="none" stroke="#e8464c" stroke-width="1.15" stroke-linecap="round" stroke-linejoin="round" vector-effect="non-scaling-stroke"><path vector-effect="non-scaling-stroke" transform="translate(-0.46,0.5)" d="M0,-1 L0.23,0 L0.46,-1 L0.69,0 L0.92,-1"/></g>
<text transform="translate(1079.2,1013.2) scale(0.8762,1)" font-size="21.45" fill="#000" >Gân gia cường</text>
<line x1="1079.2" y1="1019.3" x2="1205.5" y2="1019.3" stroke="#555" stroke-width="1.15" />
<polyline points="1205.5,1019.3 1266.1,1070.6" fill="none" stroke="#111" stroke-width="1.1" stroke-linejoin="round" />
<polygon points="1266.1,1070.6 1253.61,1063.69 1257.22,1059.42" fill="#000" stroke="none" stroke-width="1" stroke-linejoin="round" />
<text transform="translate(1126.2,1134.5) scale(0.9096,1)" font-size="21.45" fill="#000" >Điểm hàn</text>
<line x1="1126.2" y1="1138.7" x2="1211.7" y2="1138.7" stroke="#555" stroke-width="1.15" />
<polyline points="1211.7,1138.7 1276,1194" fill="none" stroke="#111" stroke-width="1.1" stroke-linejoin="round" />
<polygon points="1276,1194 1263.56,1186.99 1267.21,1182.75" fill="#000" stroke="none" stroke-width="1" stroke-linejoin="round" />
<polyline points="1211.7,1138.7 1258.7,1228.6" fill="none" stroke="#111" stroke-width="1.1" stroke-linejoin="round" />
<polygon points="1258.7,1228.6 1249.73,1217.49 1254.7,1214.9" fill="#000" stroke="none" stroke-width="1" stroke-linejoin="round" />
<path d="M1440.4,1226 L1711.8,1226 M1440.4,1231.4 L1711.8,1231.4" stroke="#555" stroke-width="1.2"/>
<path d="M1440.4,1224 C1437,1227 1443,1230 1440.4,1233.5 M1711.8,1224 C1708.5,1227 1714.5,1230 1711.8,1233.5" fill="none" stroke="#555" stroke-width="1"/>
<polygon points="1542.5,1220.4 1513,1220.4 1513,1163.4 1638.7,1163.4 1638.7,1220.4 1609.4,1220.4 1609.4,1225.8 1643.8,1225.8 1643.8,1158.3 1508.4,1158.3 1508.4,1225.8 1542.5,1225.8" fill="none" stroke="#2a2ad6" stroke-width="1.6" stroke-linejoin="round" />
<path d="M1508.4,1158.3 A8,6 0 0 1 1524.6,1158.3 Z" fill="#000"/>
<path d="M1627.2,1158.3 A8,6 0 0 1 1643.8,1158.3 Z" fill="#000"/>
<path d="M1508.4,1226 L1499.5,1226 A9,9 0 0 1 1508.4,1217 Z" fill="#000"/>
<path d="M1643.8,1226 L1652.7,1226 A9,9 0 0 0 1643.8,1217 Z" fill="#000"/>
<line x1="1508.4" y1="1107.5" x2="1508.4" y2="1149.6" stroke="#6e6e6e" stroke-width="1.1" />
<line x1="1643.8" y1="1107.5" x2="1643.8" y2="1149.6" stroke="#6e6e6e" stroke-width="1.1" />
<line x1="1508.4" y1="1116" x2="1643.8" y2="1116" stroke="#5e5e5e" stroke-width="1.6" />
<polygon points="1508.4,1116 1521.9,1113.1 1521.9,1118.9" fill="#000" stroke="none" stroke-width="1" stroke-linejoin="round" />
<polygon points="1643.8,1116 1630.3,1118.9 1630.3,1113.1" fill="#000" stroke="none" stroke-width="1" stroke-linejoin="round" />
<g transform="translate(1575.7,1104.8) rotate(0) scale(14.5)" fill="none" stroke="#e8464c" stroke-width="1.15" stroke-linecap="round" stroke-linejoin="round" vector-effect="non-scaling-stroke"><path vector-effect="non-scaling-stroke" transform="translate(-0.82,0.5)" d="M0.48,0 L0.48,-1 L0,-0.32 L0.66,-0.32"/><path vector-effect="non-scaling-stroke" transform="translate(0.2,0.5)" d="M0,-0.7 A0.31,0.3 0 0 1 0.62,-0.7 L0.62,-0.3 A0.31,0.3 0 0 1 0,-0.3 Z"/></g>
<line x1="1653" y1="1158.3" x2="1695" y2="1158.3" stroke="#6e6e6e" stroke-width="1.1" />
<line x1="1685.8" y1="1158.3" x2="1685.8" y2="1226" stroke="#5e5e5e" stroke-width="1.6" />
<polygon points="1685.8,1158.3 1688.7,1171.8 1682.9,1171.8" fill="#000" stroke="none" stroke-width="1" stroke-linejoin="round" />
<polygon points="1685.8,1226 1682.9,1212.5 1688.7,1212.5" fill="#000" stroke="none" stroke-width="1" stroke-linejoin="round" />
<g transform="translate(1675.1,1191.7) rotate(-90) scale(14.5)" fill="none" stroke="#e8464c" stroke-width="1.15" stroke-linecap="round" stroke-linejoin="round" vector-effect="non-scaling-stroke"><path vector-effect="non-scaling-stroke" transform="translate(-0.81,0.5)" d="M0.04,-0.76 C0.06,-0.92 0.18,-1 0.32,-1 C0.49,-1 0.61,-0.89 0.61,-0.73 C0.61,-0.57 0.5,-0.46 0.3,-0.3 L0,0 L0.64,0"/><path vector-effect="non-scaling-stroke" transform="translate(0.19,0.5)" d="M0,-0.7 A0.31,0.3 0 0 1 0.62,-0.7 L0.62,-0.3 A0.31,0.3 0 0 1 0,-0.3 Z"/></g>
<line x1="1508.4" y1="1234.5" x2="1508.4" y2="1281.9" stroke="#6e6e6e" stroke-width="1.1" />
<line x1="1541.8" y1="1234.5" x2="1541.8" y2="1281.9" stroke="#6e6e6e" stroke-width="1.1" />
<line x1="1452.6" y1="1273.5" x2="1508.4" y2="1273.5" stroke="#222" stroke-width="1.2" />
<polygon points="1508.4,1273.5 1495.4,1276.3 1495.4,1270.7" fill="#000" stroke="none" stroke-width="1" stroke-linejoin="round" />
<line x1="1567.3" y1="1273.5" x2="1541.8" y2="1273.5" stroke="#222" stroke-width="1.2" />
<polygon points="1541.8,1273.5 1554.8,1270.7 1554.8,1276.3" fill="#000" stroke="none" stroke-width="1" stroke-linejoin="round" />
<g transform="translate(1467.9,1261.6) rotate(0) scale(14.5)" fill="none" stroke="#e8464c" stroke-width="1.15" stroke-linecap="round" stroke-linejoin="round" vector-effect="non-scaling-stroke"><path vector-effect="non-scaling-stroke" transform="translate(-0.66,0.5)" d="M0,-0.8 L0.3,-1 L0.3,0"/><path vector-effect="non-scaling-stroke" transform="translate(0.04,0.5)" d="M0,-0.7 A0.31,0.3 0 0 1 0.62,-0.7 L0.62,-0.3 A0.31,0.3 0 0 1 0,-0.3 Z"/></g>
<text transform="translate(1386.8,1112.1) scale(0.8998,1)" font-size="21.45" fill="#000" >Điểm hàn</text>
<line x1="1386.8" y1="1115.6" x2="1471.7" y2="1115.6" stroke="#555" stroke-width="1.15" />
<polyline points="1471.7,1115.6 1510,1155" fill="none" stroke="#111" stroke-width="1.1" stroke-linejoin="round" />
<polygon points="1510,1155 1498.23,1146.91 1502.25,1143.01" fill="#000" stroke="none" stroke-width="1" stroke-linejoin="round" />
<polyline points="1471.7,1115.6 1502.3,1223" fill="none" stroke="#111" stroke-width="1.1" stroke-linejoin="round" />
<polygon points="1502.3,1223 1495.77,1210.3 1501.16,1208.77" fill="#000" stroke="none" stroke-width="1" stroke-linejoin="round" />
<text transform="translate(37.1,1219.7) scale(0.9939,1)" font-size="19.42" fill="#000"  stroke="#000" stroke-width="0.25">Ghi chú:</text>
<line x1="37" y1="1223.8" x2="110.5" y2="1223.8" stroke="#555" stroke-width="1.2" />
<text transform="translate(37.1,1248.6) scale(1.0106,1)" font-size="19.42" fill="#000"  stroke="#000" stroke-width="0.25">LD: Độ sâu mang tải</text>
<text transform="translate(37.1,1278.3) scale(0.9635,1)" font-size="19.42" fill="#000"  stroke="#000" stroke-width="0.25">RS: Bước thang</text>
<text transform="translate(37.1,1308) scale(1.0029,1)" font-size="19.42" fill="#000"  stroke="#000" stroke-width="0.25">12xx: Series 1212, 1215, 1220</text>
<text transform="translate(37.1,1337.7) scale(1.0092,1)" font-size="19.42" fill="#000"  stroke="#000" stroke-width="0.25">Kích thước thể hiện là Millimeters (mm)</text>
<text transform="translate(942.5,1341.6) scale(0.8760,1)" font-size="32.46" fill="#000"  stroke="#000" stroke-width="0.35">Chi Tiết Thanh Dọc Chữ E</text>
<line x1="943" y1="1347.4" x2="1276" y2="1347.4" stroke="#555" stroke-width="1.4" />
<text transform="translate(1435.3,1341.6) scale(0.8937,1)" font-size="32.46" fill="#000"  stroke="#000" stroke-width="0.35">Chi Tiết Thanh Ngang</text>
<line x1="1436" y1="1347.4" x2="1716" y2="1347.4" stroke="#555" stroke-width="1.4" />
<text transform="translate(2031.8,1330) scale(0.9430,1)" font-size="60" fill="#ee6a2a"  stroke="#ee6a2a" stroke-width="1.3">ThangMangCap</text>
<circle cx="2443" cy="1327" r="3" fill="none" stroke="#777" stroke-width="1.2"/>
<text transform="translate(2451.5,1330) scale(0.9657,1)" font-size="36.98" fill="#000"  stroke="#000" stroke-width="1.0">com</text>
</svg></body></html>
